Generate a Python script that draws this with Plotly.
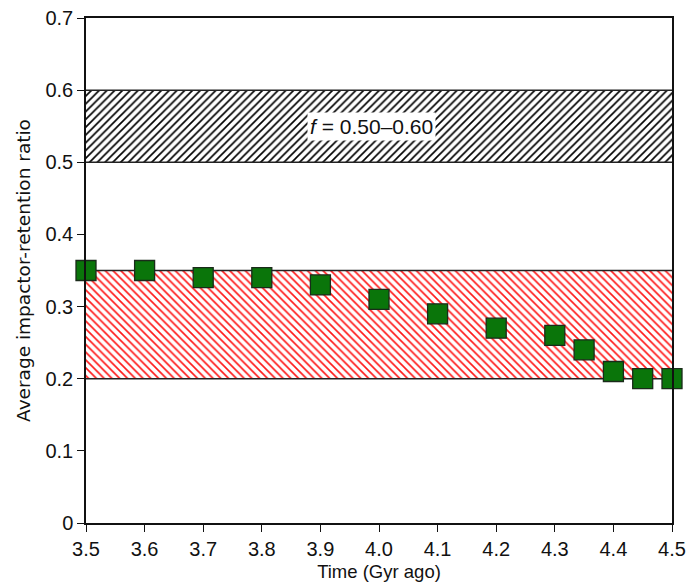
import plotly.graph_objects as go

time_gyr = [3.5, 3.6, 3.7, 3.8, 3.9, 4.0, 4.1, 4.2, 4.3, 4.35, 4.4, 4.45, 4.5]
retention = [0.35, 0.35, 0.34, 0.34, 0.33, 0.31, 0.29, 0.27, 0.26, 0.24, 0.21, 0.20, 0.20]

band_black = [0.50, 0.60]
band_red = [0.20, 0.35]
x_range = [3.5, 4.5]
y_range = [0, 0.7]
x_ticks = [3.5, 3.6, 3.7, 3.8, 3.9, 4.0, 4.1, 4.2, 4.3, 4.4, 4.5]
x_ticklabels = ["3.5", "3.6", "3.7", "3.8", "3.9", "4.0", "4.1", "4.2", "4.3", "4.4", "4.5"]
y_ticks = [0, 0.1, 0.2, 0.3, 0.4, 0.5, 0.6, 0.7]
y_ticklabels = ["0", "0.1", "0.2", "0.3", "0.4", "0.5", "0.6", "0.7"]

NARROW = "Liberation Sans Narrow, Arial Narrow, Liberation Sans, sans-serif"

fig = go.Figure()

def band(lo, hi, shape, color):
    fig.add_trace(go.Scatter(
        x=[x_range[0], x_range[1], x_range[1], x_range[0], x_range[0]],
        y=[lo, lo, hi, hi, lo],
        mode="lines", fill="toself",
        fillcolor="rgba(255,255,255,0)",
        fillpattern=dict(shape=shape, fgcolor=color, bgcolor="white", size=5.5,
                         solidity=0.3, fgopacity=1),
        line=dict(color="rgba(0,0,0,0)", width=0),
        hoverinfo="skip", showlegend=False))
    for yv in (lo, hi):
        fig.add_trace(go.Scatter(x=x_range, y=[yv, yv], mode="lines",
                                 line=dict(color="#222", width=1.5),
                                 hoverinfo="skip", showlegend=False))

band(band_black[0], band_black[1], "/", "#000000")
band(band_red[0], band_red[1], "\\", "#ff1a1a")

fig.add_trace(go.Scatter(
    x=time_gyr, y=retention, mode="markers",
    marker=dict(symbol="square", size=20, color="#0a750a",
                line=dict(color="#1a2a1a", width=1.3)),
    showlegend=False, cliponaxis=False))

fig.add_annotation(x=3.988, y=0.55, text="<i>f</i> = 0.50–0.60", showarrow=False,
                   bgcolor="white", font=dict(size=21, color="#111", family=NARROW), borderpad=2)

axis_common = dict(showline=True, linecolor="#111", linewidth=1.5, mirror=True,
                   ticks="outside", ticklen=7, tickwidth=1.3, tickcolor="#111",
                   showgrid=False, zeroline=False, automargin=False,
                   tickfont=dict(size=20, color="#111", family=NARROW))

fig.update_xaxes(range=x_range, tickvals=x_ticks, ticktext=x_ticklabels,
                 title=dict(text="Time (Gyr ago)", font=dict(size=18.5, color="#111", family=NARROW), standoff=6),
                 **axis_common)
fig.update_yaxes(range=y_range, tickvals=y_ticks, ticktext=y_ticklabels,
                 title=dict(text="Average impactor-retention ratio",
                            font=dict(size=18.5, color="#111", family="DejaVu Sans, sans-serif"), standoff=10),
                 **axis_common)

fig.update_layout(width=686, height=586, margin=dict(l=86, r=14, t=18, b=63),
                  plot_bgcolor="white", paper_bgcolor="white",
                  font=dict(family=NARROW))

fig.write_html("out.html", config={"displayModeBar": False},
               post_script="document.body.style.margin='0px';document.body.style.overflow='hidden';")
